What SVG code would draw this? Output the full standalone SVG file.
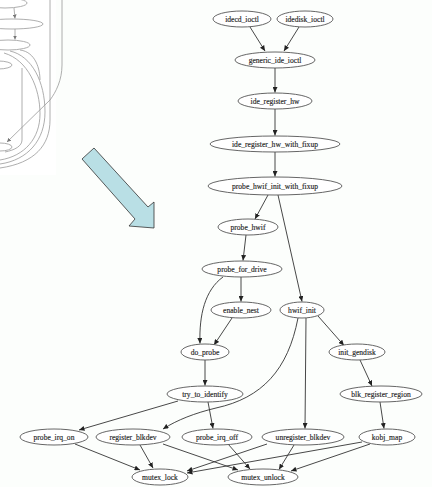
<svg xmlns="http://www.w3.org/2000/svg" width="432" height="487" viewBox="0 0 432 487">
<defs>
<style>
.n ellipse{fill:#ffffff;stroke:#555;stroke-width:0.9}
.n text{font-family:"Liberation Serif",serif;font-size:7.6px;fill:#1a1a1a;stroke:#333;stroke-width:0.15;text-anchor:middle;dominant-baseline:central}
.e path{fill:none;stroke:#333;stroke-width:0.9;marker-end:url(#ah)}
.bg path,.bg ellipse{fill:none;stroke:#999;stroke-width:0.8}
</style>
<marker id="ah" markerWidth="6" markerHeight="5" refX="5.5" refY="2.5" orient="auto" markerUnits="userSpaceOnUse"><path d="M0,0 L5.5,2.5 L0,5 z" fill="#222"/></marker>
<marker id="ahg" markerWidth="5" markerHeight="4" refX="4" refY="2" orient="auto" markerUnits="userSpaceOnUse"><path d="M0,0 L4,2 L0,4 z" fill="#777"/></marker>
</defs>
<rect width="432" height="487" fill="#fcfefc"/>
<rect width="56" height="175" fill="#ffffff"/>
<g id="partial-graph" class="bg">
<ellipse cx="5" cy="3" rx="22" ry="5"/>
<ellipse cx="12" cy="24" rx="31" ry="5"/>
<ellipse cx="8" cy="45" rx="22" ry="5"/>
<ellipse cx="-2" cy="65" rx="14" ry="4"/>
<ellipse cx="0" cy="147" rx="12" ry="4"/>
<path d="M14,8 L15,18.5" marker-end="url(#ahg)"/>
<path d="M15,29 L15,39.5" marker-end="url(#ahg)"/>
<path d="M50,0 L50,120 C50,145 35,163 0,168"/>
<path d="M62,0 L62,65 C62,80 56,92 50,100 L7,142" marker-end="url(#ahg)"/>
<path d="M10,51 C32,56 45,82 45,112 C45,140 28,160 0,164"/>
<path d="M4,53 C28,60 40,88 40,114 C40,138 25,156 0,160"/>
<path d="M20,50 C36,52 40,70 40,80"/>
<path d="M22,68 L22,140 C22,146 15,150 5,152"/>
</g>
<polygon id="big-arrow" points="82,159 94,148 148,207 154,202 154,228 129,226 135,219" fill="#b9dfe5" stroke="#333" stroke-width="0.8"/>
<g id="edges" class="e">
<path d="M250,27 L265,51"/>
<path d="M299,27 L284,51"/>
<path d="M275,68 L275,92.5"/>
<path d="M275,109 L275,135.5"/>
<path d="M275,152 L275,176.5"/>
<path d="M268,195 L255,219"/>
<path d="M278,195 L302,301.5"/>
<path d="M246,235 L243,260.5"/>
<path d="M241,277 L241,301.5"/>
<path d="M223,277 C205,290 199,315 200,343.5"/>
<path d="M232,318 L214,345"/>
<path d="M318,316 L344,345.5"/>
<path d="M306,318 L305,428.5"/>
<path d="M298,318 C288,370 262,398 216,408 C195,413 177,420 163,429"/>
<path d="M205,360 L205,385.5"/>
<path d="M360,360 L372,386"/>
<path d="M380,402 L384,428.5"/>
<path d="M178,401 L79,430"/>
<path d="M208,402 L213,428.5"/>
<path d="M75,444 L140,470"/>
<path d="M140,445 L153,468"/>
<path d="M163,444 L238,470"/>
<path d="M228,444 L250,469"/>
<path d="M267,444 L187,471"/>
<path d="M294,445 L279,469.5"/>
<path d="M362,442 L187,473"/>
<path d="M370,444 L291,471"/>
</g>
<g id="idecd_ioctl" class="n"><ellipse cx="242" cy="19" rx="29" ry="8"/><text x="242" y="19">idecd_ioctl</text></g>
<g id="idedisk_ioctl" class="n"><ellipse cx="305" cy="19" rx="28" ry="8"/><text x="305" y="19">idedisk_ioctl</text></g>
<g id="generic_ide_ioctl" class="n"><ellipse cx="275" cy="60" rx="40" ry="8"/><text x="275" y="60">generic_ide_ioctl</text></g>
<g id="ide_register_hw" class="n"><ellipse cx="275" cy="101" rx="37" ry="8"/><text x="275" y="101">ide_register_hw</text></g>
<g id="ide_register_hw_with_fixup" class="n"><ellipse cx="275" cy="144" rx="65" ry="8"/><text x="275" y="144">ide_register_hw_with_fixup</text></g>
<g id="probe_hwif_init_with_fixup" class="n"><ellipse cx="275" cy="186" rx="67" ry="9"/><text x="275" y="186">probe_hwif_init_with_fixup</text></g>
<g id="probe_hwif" class="n"><ellipse cx="248" cy="227" rx="30" ry="8"/><text x="248" y="227">probe_hwif</text></g>
<g id="probe_for_drive" class="n"><ellipse cx="242" cy="269" rx="40" ry="8"/><text x="242" y="269">probe_for_drive</text></g>
<g id="enable_nest" class="n"><ellipse cx="241" cy="310" rx="30" ry="8"/><text x="241" y="310">enable_nest</text></g>
<g id="hwif_init" class="n"><ellipse cx="302" cy="310" rx="22" ry="8"/><text x="302" y="310">hwif_init</text></g>
<g id="do_probe" class="n"><ellipse cx="205" cy="352" rx="24" ry="8"/><text x="205" y="352">do_probe</text></g>
<g id="init_gendisk" class="n"><ellipse cx="357" cy="352" rx="28" ry="8"/><text x="357" y="352">init_gendisk</text></g>
<g id="blk_register_region" class="n"><ellipse cx="381" cy="394" rx="41" ry="8"/><text x="381" y="394">blk_register_region</text></g>
<g id="try_to_identify" class="n"><ellipse cx="205" cy="394" rx="38" ry="8"/><text x="205" y="394">try_to_identify</text></g>
<g id="probe_irq_on" class="n"><ellipse cx="54" cy="437" rx="34" ry="8"/><text x="54" y="437">probe_irq_on</text></g>
<g id="register_blkdev" class="n"><ellipse cx="133" cy="437" rx="37" ry="8"/><text x="133" y="437">register_blkdev</text></g>
<g id="probe_irq_off" class="n"><ellipse cx="217" cy="437" rx="35" ry="8"/><text x="217" y="437">probe_irq_off</text></g>
<g id="unregister_blkdev" class="n"><ellipse cx="303" cy="437" rx="41" ry="8"/><text x="303" y="437">unregister_blkdev</text></g>
<g id="kobj_map" class="n"><ellipse cx="387" cy="437" rx="28" ry="8"/><text x="387" y="437">kobj_map</text></g>
<g id="mutex_lock" class="n"><ellipse cx="160" cy="477" rx="28" ry="8"/><text x="160" y="477">mutex_lock</text></g>
<g id="mutex_unlock" class="n"><ellipse cx="263" cy="477" rx="35" ry="8"/><text x="263" y="477">mutex_unlock</text></g>
</svg>
